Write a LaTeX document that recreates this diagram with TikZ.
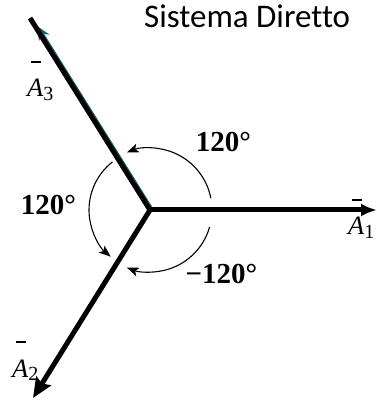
\documentclass[tikz,border=0pt]{standalone}
\usepackage{fontspec}
\setmainfont{Liberation Serif}
\newfontfamily\titlefont[Ligatures={NoCommon,NoContextual}]{Carlito}
\usetikzlibrary{arrows.meta,calc}
\definecolor{ink}{HTML}{000000}
\definecolor{teal}{HTML}{1E6464}
\newcommand{\phasorlab}[1]{\makebox[0pt][l]{\hspace{0.16em}\raisebox{1.3em}{\rule{0.36em}{0.045em}}}\textit{A}\raisebox{-0.12em}{\fontsize{20pt}{20pt}\selectfont #1}}
\tikzset{
  phasor/.style={line width=5pt, draw=ink},
  anglearc/.style={-{Stealth[length=12pt,width=9pt,inset=3pt]}, line width=1.1pt, draw=ink},
  anglelab/.style={font=\fontsize{29pt}{29pt}\selectfont\bfseries, anchor=base, inner sep=0pt},
  vlab/.style={font=\fontsize{26.5pt}{26.5pt}\selectfont, anchor=base west, inner sep=0pt}
}
\begin{document}
\begin{tikzpicture}[x=1pt,y=1pt]
  \useasboundingbox (0,0) rectangle (376,400);
  % phasor ends
  \coordinate (O) at (150,190);
  \coordinate (P1) at (377,190);
  \coordinate (P2) at (33,2);
  \coordinate (P3) at (30,382);

  % phasors
  \draw[line width=4pt, draw=teal, -{Stealth[length=14pt,width=12pt]}]
    ($(O)+(31.4:1.6)$) -- ($(O)!0.955!(P3)+(31.4:1.6)$);
  \draw[phasor] (O) -- (P3);
  \draw[phasor, -{Latex[length=16pt,width=13pt]}] (O) -- (P1);
  \draw[phasor, -{Stealth[length=20pt,width=17pt,inset=3pt]}] (O) -- (P2);

  % angle arcs
  \draw[anglearc] (O) ++(11:62) arc[start angle=11, end angle=112, radius=62];
  \draw[anglearc] (O) ++(128:61) arc[start angle=128, end angle=230, radius=61];
  \draw[anglearc] (O) ++(-16:62) arc[start angle=-16, end angle=-112, radius=62];

  % angle labels
  \node[anglelab] (t1) at (223.5,248) {120°};
  \node[anglelab] (t2) at (48.5,185) {120°};
  \node[anglelab] (t3) at (221.5,117) {−120°};

  % phasor labels
  \node[vlab] (a1) at (348,165) {\phasorlab{1}};
  \node[vlab] (a2) at (12,23) {\phasorlab{2}};
  \node[vlab] (a3) at (27,303) {\phasorlab{3}};

  % title
  \node[font=\titlefont\fontsize{33pt}{33pt}\selectfont, anchor=base west, inner sep=0pt] (title) at (144,372) {Sistema Diretto};
\end{tikzpicture}
\end{document}
